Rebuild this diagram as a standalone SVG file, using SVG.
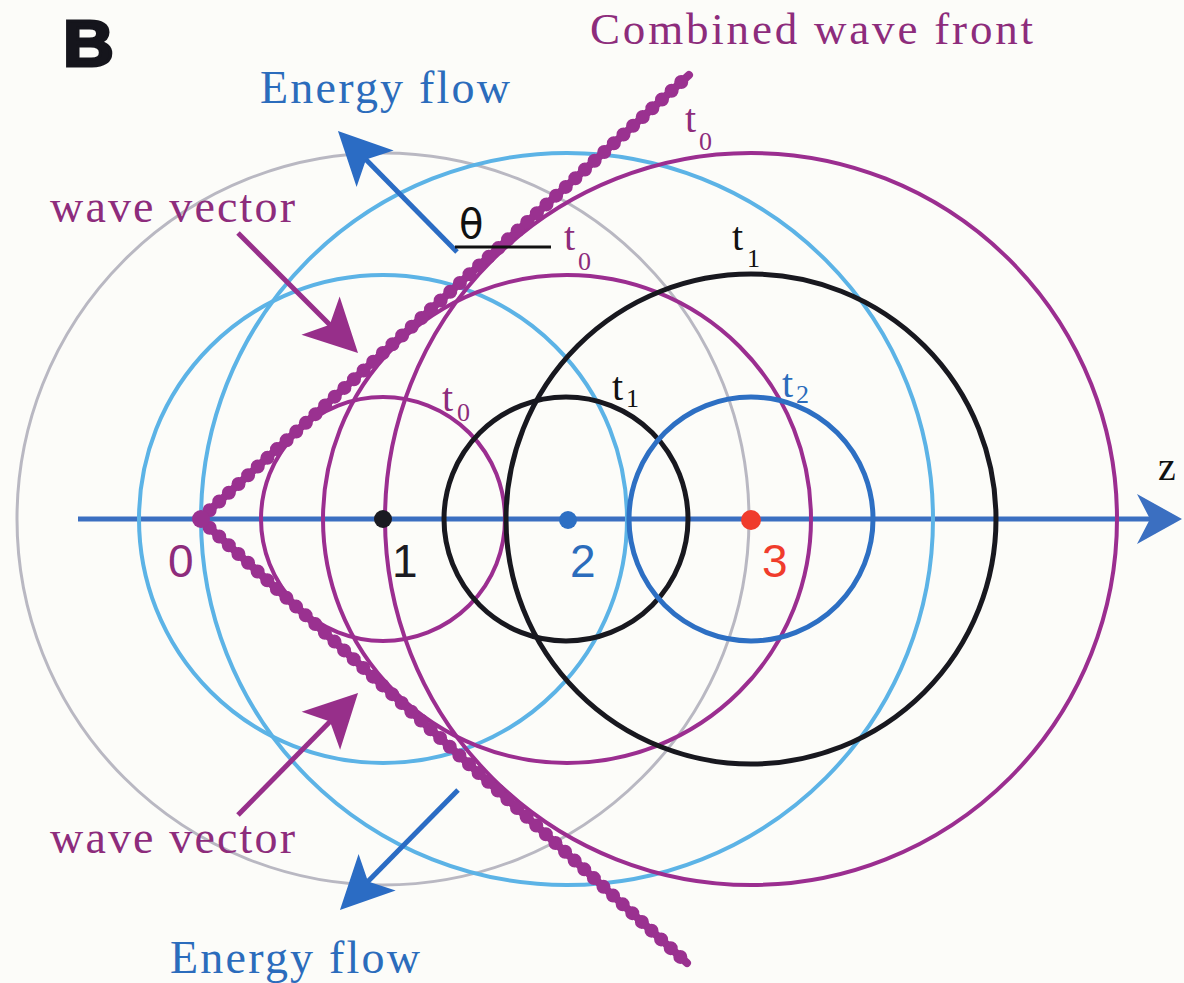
<svg xmlns="http://www.w3.org/2000/svg" width="1184" height="983" viewBox="0 0 1184 983">
<style>
.c{fill:none}
.pc{stroke:#9b2e90;stroke-width:4}
.bc{stroke:#18181f;stroke-width:5}
.dbc{stroke:#2d6fc3;stroke-width:5}
.lb{stroke:#5cb3e6;stroke-width:4}
.gr{stroke:#b9b8c2;stroke-width:3}
.ser{font-family:"Liberation Serif","Times New Roman",serif}
.san{font-family:"Liberation Sans",Arial,sans-serif}
.pt{fill:#8d2c7c}
.bt{fill:#2b6cbc}
.front{stroke:#9a3190;fill:none;stroke-linecap:round}
</style>
<defs>
<marker id="ahB" markerUnits="userSpaceOnUse" markerWidth="80" markerHeight="80" viewBox="-40 -40 80 80" refX="0" refY="0" orient="auto">
<path d="M30,0 L-23,-26 L-10,0 L-23,26 Z" fill="#2b6cc4"/>
</marker>
<marker id="ahP" markerUnits="userSpaceOnUse" markerWidth="80" markerHeight="80" viewBox="-40 -40 80 80" refX="0" refY="0" orient="auto">
<path d="M30,0 L-23,-27 L-10,0 L-23,27 Z" fill="#972f8a"/>
</marker>
</defs>
<rect width="1184" height="983" fill="#fcfcf9"/>

<g id="axis">
<line x1="78" y1="519" x2="1150" y2="519" stroke="#3b6fc1" stroke-width="5"/>
<path d="M1182,519 L1137,494 L1150,519 L1137,544 Z" fill="#3b6fc1"/>
</g>

<g id="wavefronts">
<circle id="gray-1" class="c gr" cx="383" cy="519" r="366"/>
<circle id="lightblue-1" class="c lb" cx="383" cy="519" r="244"/>
<circle id="lightblue-2" class="c lb" cx="567" cy="519" r="366"/>
<circle id="purple-1" class="c pc" cx="383" cy="519" r="122"/>
<circle id="purple-2" class="c pc" cx="567" cy="519" r="244"/>
<circle id="purple-3" class="c pc" cx="751" cy="519" r="366"/>
<circle id="black-2" class="c bc" cx="566" cy="519" r="122"/>
<circle id="black-3" class="c bc" cx="751" cy="519" r="245"/>
<circle id="blue-3" class="c dbc" cx="751" cy="519" r="122"/>
</g>

<g id="combined-front">
<path class="front" stroke-width="8" d="M689,75 L200,519 L687,963"/>
<path class="front" stroke-width="14" stroke-dasharray="0 13" d="M200,519 L689,75"/>
<path class="front" stroke-width="14" stroke-dasharray="0 13" d="M200,519 L687,963"/>
<circle cx="201" cy="519" r="9" fill="#9a3190"/>
</g>

<g id="connectors">
<line x1="457" y1="252" x2="359" y2="152.4" stroke="#2b6cc4" stroke-width="5" marker-end="url(#ahB)"/>
<line x1="458" y1="790" x2="361" y2="888.6" stroke="#2b6cc4" stroke-width="5" marker-end="url(#ahB)"/>
<line x1="238" y1="233" x2="336.8" y2="331.8" stroke="#972f8a" stroke-width="5" marker-end="url(#ahP)"/>
<line x1="238" y1="815" x2="337" y2="714.4" stroke="#972f8a" stroke-width="5" marker-end="url(#ahP)"/>
<line id="theta-line" x1="455" y1="247" x2="551" y2="247" stroke="#111" stroke-width="3"/>
</g>

<g id="points">
<circle id="p1" cx="383" cy="519" r="9" fill="#1b1b22"/>
<circle id="p2" cx="568" cy="520" r="9" fill="#2d6fc3"/>
<circle id="p3" cx="751" cy="520" r="10" fill="#f03c2c"/>
</g>

<g id="labels">
<text class="san" x="63" y="66.5" font-size="64" font-weight="bold" fill="#15151c" stroke="#15151c" stroke-width="3" transform="translate(63 66.5) scale(1.1 1) translate(-63 -66.5)">B</text>
<text class="ser pt" x="590" y="44" font-size="45" textLength="443" lengthAdjust="spacing">Combined wave front</text>
<text class="ser bt" x="260" y="103" font-size="46" textLength="250" lengthAdjust="spacing">Energy flow</text>
<text class="ser bt" x="170" y="973" font-size="46" textLength="250" lengthAdjust="spacing">Energy flow</text>
<text class="ser pt" x="50" y="222" font-size="46" textLength="245" lengthAdjust="spacing">wave vector</text>
<text class="ser pt" x="50" y="853" font-size="46" textLength="245" lengthAdjust="spacing">wave vector</text>
<text x="459" y="238" font-family="'DejaVu Sans',sans-serif" font-size="40" fill="#111">θ</text>
<text class="ser" x="1158" y="480" font-size="40" fill="#111">z</text>

<text class="ser pt" x="685" y="132" font-size="40">t</text>
<text class="ser pt" x="699" y="150" font-size="26">0</text>
<text class="ser pt" x="564" y="250" font-size="40">t</text>
<text class="ser pt" x="578" y="270" font-size="26">0</text>
<text class="ser pt" x="442" y="411" font-size="40">t</text>
<text class="ser pt" x="457" y="421" font-size="26">0</text>
<text class="ser" x="732" y="250" font-size="40" fill="#111">t</text>
<text class="ser" x="747" y="267" font-size="26" fill="#111">1</text>
<text class="ser" x="612" y="400" font-size="40" fill="#111">t</text>
<text class="ser" x="626" y="407" font-size="26" fill="#111">1</text>
<text class="ser bt" x="782" y="397" font-size="40">t</text>
<text class="ser bt" x="796" y="403" font-size="26">2</text>

<text class="san" x="168" y="577" font-size="46" fill="#8d2c7c">0</text>
<text class="san" x="392" y="577" font-size="46" fill="#1b1b22">1</text>
<text class="san" x="570" y="577" font-size="46" fill="#2b6cbc">2</text>
<text class="san" x="762" y="577" font-size="46" fill="#f03c2c">3</text>
</g>
</svg>
